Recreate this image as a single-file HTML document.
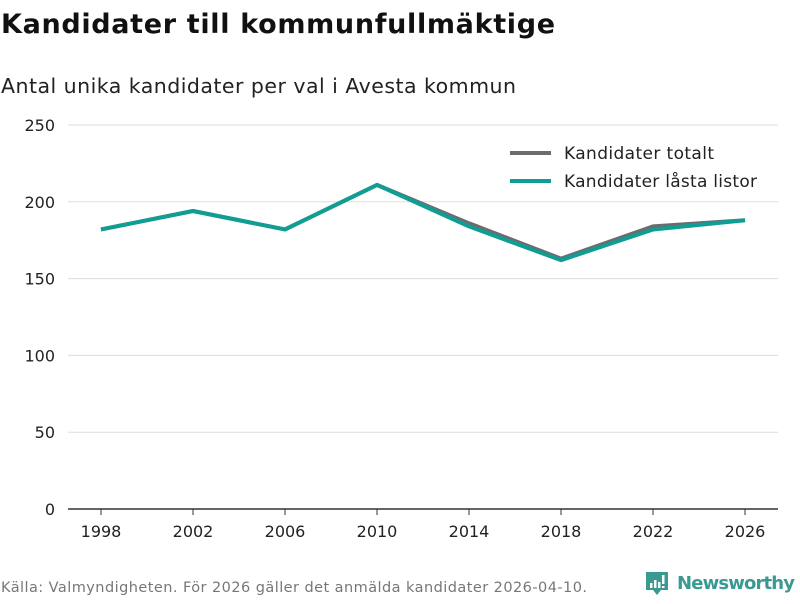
<!DOCTYPE html>
<html><head><meta charset="utf-8"><style>
body{margin:0;background:#fff;width:800px;height:600px;overflow:hidden;font-family:"DejaVu Sans","Liberation Sans",sans-serif}
</style></head><body>
<svg id="chart" width="800" height="600" xmlns="http://www.w3.org/2000/svg" font-family="DejaVu Sans, Liberation Sans, sans-serif">
<text x="1" y="33" font-size="27" font-weight="bold" fill="#111" textLength="554">Kandidater till kommunfullmäktige</text>
<text x="1" y="93" font-size="20.5" fill="#222" textLength="515">Antal unika kandidater per val i Avesta kommun</text>
<g id="grid"></g>
<g id="yticks"></g>
<g id="xticks"></g>
<g id="lines"></g>
<g>
<line x1="510" y1="153" x2="551" y2="153" stroke="#6e6a70" stroke-width="4"/>
<text x="564" y="159" font-size="17" fill="#222" textLength="150">Kandidater totalt</text>
<line x1="510" y1="181" x2="551" y2="181" stroke="#0e9e94" stroke-width="4"/>
<text x="564" y="187" font-size="17" fill="#222" textLength="193">Kandidater låsta listor</text>
</g>
<text x="1" y="592" font-size="14.5" fill="#777" textLength="586">Källa: Valmyndigheten. För 2026 gäller det anmälda kandidater 2026-04-10.</text>
<g>
<path d="M646 572h22v18h-7l-4 5-4-5h-7z" fill="#3a9a92"/>
<rect x="650" y="583" width="2.5" height="5" fill="#fff"/><rect x="654" y="580" width="2.5" height="8" fill="#fff"/><rect x="658" y="582" width="2.5" height="6" fill="#fff"/><rect x="662" y="575" width="2.5" height="9" fill="#fff"/><rect x="662" y="586" width="2.5" height="2" fill="#fff"/>
<text x="677" y="589" font-size="18" font-weight="bold" fill="#3a9a92" textLength="118">Newsworthy</text>
</g>
</svg>
<script>
const years=[1998,2002,2006,2010,2014,2018,2022,2026];
const totalValues=[182,194,182,211,186,163,184,188];
const lockedValues=[182,194,182,211,184,162,182,188];
const yTicks=[0,50,100,150,200,250];
const NS="http://www.w3.org/2000/svg";
const x=v=>101+(v-1998)*(644/28);
const y=v=>509-v*1.536;
function mk(t,a,p){const e=document.createElementNS(NS,t);for(const k in a)e.setAttribute(k,a[k]);p.appendChild(e);return e;}
const grid=document.getElementById('grid'),yt=document.getElementById('yticks'),xt=document.getElementById('xticks'),lines=document.getElementById('lines');
yTicks.forEach(v=>{
 const l=mk('line',{x1:68,x2:778,y1:y(v),y2:y(v),stroke:v===0?'#333':'#ddd','stroke-width':v===0?1.5:1},grid);
 
 
 const t=mk('text',{x:55,y:y(v)+6,'font-size':16,fill:'#222','text-anchor':'end'},yt);
 t.textContent=v;
 
 
});
years.forEach(v=>{
 const tk=mk('line',{x1:x(v),x2:x(v),y1:509,y2:515,stroke:'#333','stroke-width':1},xt);
 
 
 const t=mk('text',{x:x(v),y:537,'font-size':16,fill:'#222','text-anchor':'middle'},xt);
 t.textContent=v;
 
 
});
function line(vals,color,name){
 const p=mk('polyline',{points:vals.map((v,i)=>x(years[i])+','+y(v)).join(' '),fill:'none',stroke:color,'stroke-width':4,'stroke-linejoin':'round'},lines);
 
 
}
line(totalValues,'#6e6a70','line-total');
line(lockedValues,'#0e9e94','line-locked');
</script>
</body></html>
